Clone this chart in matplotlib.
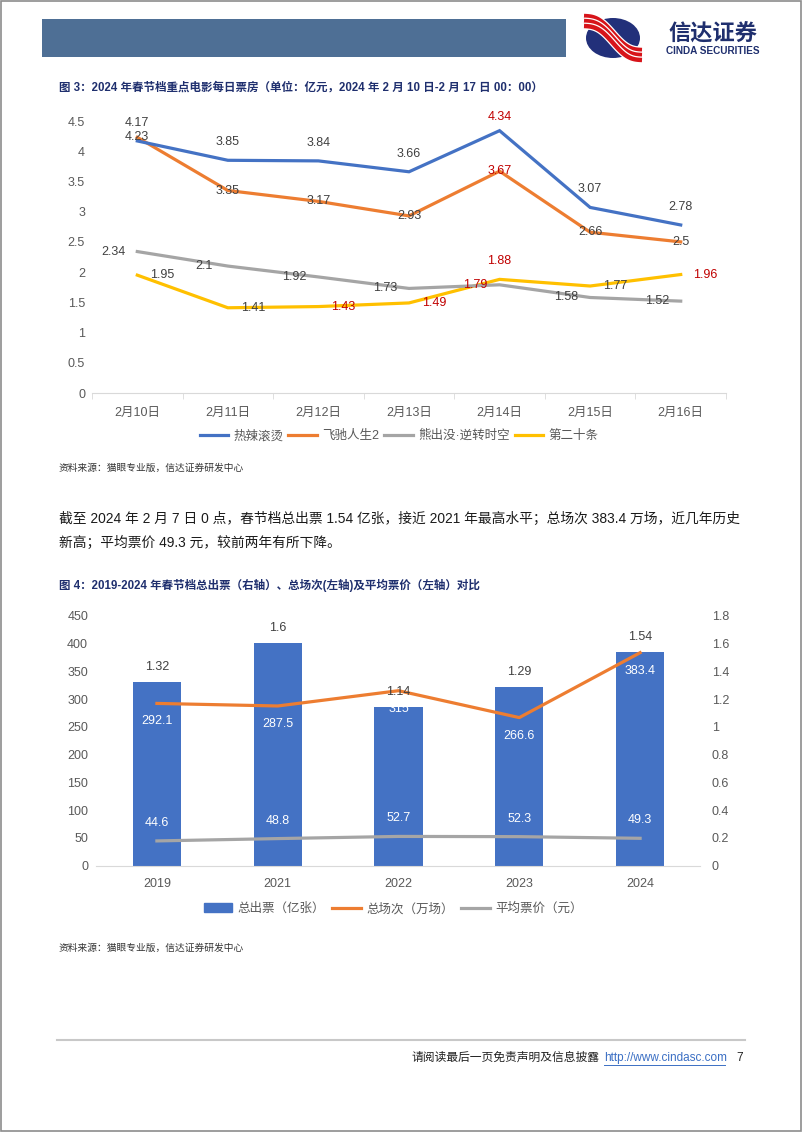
import numpy as np
import matplotlib.pyplot as plt
from matplotlib.patches import Rectangle, Ellipse, Patch
from matplotlib.lines import Line2D

plt.rcParams['font.family'] = ['Liberation Sans', 'Noto Sans CJK SC', 'DejaVu Sans']

# ---- 图3 data: daily box office (亿元)
days = ['2月10日', '2月11日', '2月12日', '2月13日', '2月14日', '2月15日', '2月16日']
movies = ['热辣滚烫', '飞驰人生2', '熊出没·逆转时空', '第二十条']
hot_spicy = [4.17, 3.85, 3.84, 3.66, 4.34, 3.07, 2.78]
pegasus2 = [4.23, 3.35, 3.17, 2.93, 3.67, 2.66, 2.5]
boonie_bears = [2.34, 2.1, 1.92, 1.73, 1.79, 1.58, 1.52]
article20 = [1.95, 1.41, 1.43, 1.49, 1.88, 1.77, 1.96]

# ---- 图4 data
years = ['2019', '2021', '2022', '2023', '2024']
tickets = [1.32, 1.6, 1.14, 1.29, 1.54]          # 总出票（亿张）, right axis
screenings = [292.1, 287.5, 315, 266.6, 383.4]   # 总场次（万场）, left axis
avg_price = [44.6, 48.8, 52.7, 52.3, 49.3]       # 平均票价（元）, left axis

W, H = 802, 1133
TXT = '#404040'
TICK = '#595959'
RED = '#C00000'
NAVY = '#1F2F6E'

fig = plt.figure(figsize=(W / 100, H / 100), dpi=100)

# page layer in pixel coordinates
page = fig.add_axes([0, 0, 1, 1], zorder=0)
page.set_xlim(0, W)
page.set_ylim(H, 0)
page.axis('off')


def frac(x0, y0, x1, y1):
    return [x0 / W, 1 - y1 / H, (x1 - x0) / W, (y1 - y0) / H]


# page border
page.add_patch(Rectangle((0.5, 0.5), W - 2, H - 2.5, fill=False, ec='#8c8c8c', lw=1.2))

# header bar + logo
page.add_patch(Rectangle((42, 19), 524, 38, color='#4E6F95', lw=0))
page.add_patch(Ellipse((613, 38), 54, 40, color='#22307A', lw=0))
tt = np.linspace(0, 1, 50)
for off in (-5, 0, 5):
    xs = 584 + 58 * tt
    ys = 21 + 34 * tt + off - 5 * np.sin(2 * np.pi * tt)
    page.plot(xs, ys, color='white', lw=5, solid_capstyle='butt')
    page.plot(xs, ys, color='#D7141A', lw=3.2, solid_capstyle='butt')
page.text(713, 34, '信达证券', ha='center', va='center', fontsize=16, fontweight='bold',
          color=NAVY, family=['Noto Sans CJK SC'])
page.text(713, 51.5, 'CINDA SECURITIES', ha='center', va='center', fontsize=7.2,
          fontweight='bold', color=NAVY)

# captions / body
page.text(59, 88, '图 3：2024 年春节档重点电影每日票房（单位：亿元，2024 年 2 月 10 日-2 月 17 日 00：00）',
          ha='left', va='center', fontsize=8.3, fontweight='bold', color=NAVY)
page.text(59, 468, '资料来源：猫眼专业版，信达证券研发中心', ha='left', va='center',
          fontsize=7, style='italic', color='#333333')
page.text(59, 519, '截至 2024 年 2 月 7 日 0 点，春节档总出票 1.54 亿张，接近 2021 年最高水平；总场次 383.4 万场，近几年历史',
          ha='left', va='center', fontsize=9.9, color='#1a1a1a')
page.text(59, 543, '新高；平均票价 49.3 元，较前两年有所下降。', ha='left', va='center',
          fontsize=9.9, color='#1a1a1a')
page.text(59, 585, '图 4：2019-2024 年春节档总出票（右轴）、总场次(左轴)及平均票价（左轴）对比',
          ha='left', va='center', fontsize=8.3, fontweight='bold', color=NAVY)
page.text(59, 948, '资料来源：猫眼专业版，信达证券研发中心', ha='left', va='center',
          fontsize=7, style='italic', color='#333333')

# footer
page.plot([57, 745], [1040, 1040], color='#C8C8C8', lw=1.5)
page.text(599, 1058, '请阅读最后一页免责声明及信息披露', ha='right', va='center', fontsize=8.5, color='#222222')
page.text(604, 1058, 'http://www.cindasc.com', ha='left', va='center', fontsize=8.5, color='#3B6FC4')
page.plot([604, 725], [1065, 1065], color='#3B6FC4', lw=0.7)
page.text(740, 1058, '7', ha='center', va='center', fontsize=8.5, color='#222222')

# ================= chart 1 =================
ax1 = fig.add_axes(frac(92, 121, 726, 393), zorder=2)
ax1.patch.set_alpha(0)
x = np.arange(len(days))
series = [hot_spicy, pegasus2, boonie_bears, article20]
colors = ['#4472C4', '#ED7D31', '#A5A5A5', '#FFC000']
# label offset (px) for each series: above, centre, left, right
offsets = [(0, 18), (0, 0), (-24, 0), (25, 0)]
special = {(0, 4): (0, 14), (3, 4): (0, 18)}
red_labels = {(0, 4), (1, 4), (2, 4), (3, 2), (3, 3), (3, 4), (3, 6)}
for s, (vals, c) in enumerate(zip(series, colors)):
    ax1.plot(x, vals, color=c, lw=2.3, solid_joinstyle='miter', zorder=3 - s * 0.1)
for s, vals in enumerate(series):
    for i, v in enumerate(vals):
        dx, dy = special.get((s, i), offsets[s])
        ax1.annotate(f'{v:g}', (i, v), xytext=(dx * 0.72, dy * 0.72), textcoords='offset points',
                     ha='center', va='center', fontsize=9,
                     color=RED if (s, i) in red_labels else TXT, zorder=5)
ax1.set_xlim(-0.5, len(days) - 0.5)
ax1.set_ylim(0, 4.5)
ax1.set_yticks(np.arange(0, 4.51, 0.5))
ax1.set_yticklabels([f'{t:g}' for t in np.arange(0, 4.51, 0.5)])
ax1.set_xticks(x)
ax1.set_xticklabels(days)
ax1.set_xticks(np.arange(-0.5, len(days), 1), minor=True)
ax1.tick_params(axis='x', which='major', length=0, pad=10, labelsize=9, labelcolor=TICK)
ax1.tick_params(axis='x', which='minor', length=4, color='#D9D9D9', direction='out')
ax1.tick_params(axis='y', length=0, pad=5, labelsize=9, labelcolor=TICK)
for sp in ['top', 'right', 'left']:
    ax1.spines[sp].set_visible(False)
ax1.spines['bottom'].set_color('#D9D9D9')
handles = [Line2D([], [], color=c, lw=2.3) for c in colors]
fig.legend(handles, movies, loc='center', bbox_to_anchor=(399 / W, 1 - 436 / H), ncol=4,
           frameon=False, fontsize=9, handlelength=2.3, handletextpad=0.4, columnspacing=0.4,
           labelcolor=TICK)

# ================= chart 2 =================
axb = fig.add_axes(frac(96.5, 615.7, 700.5, 865.7), zorder=2)
axb.patch.set_alpha(0)
axl = axb.twinx()
axl.patch.set_alpha(0)

xb = np.arange(len(years))
axb.bar(xb, tickets, width=0.4, color='#4472C4', zorder=2)
axb.set_ylim(0, 1.8)
axb.set_xlim(-0.5, len(years) - 0.5)
axb.yaxis.tick_right()
rt = np.arange(0, 1.81, 0.2)
axb.set_yticks(rt)
axb.set_yticklabels([f'{t:.1f}'.rstrip('0').rstrip('.') if t > 0 else '0' for t in rt])
axb.tick_params(axis='y', length=0, pad=8, labelsize=9, labelcolor=TICK)
axb.set_xticks(xb)
axb.set_xticklabels(years)
axb.tick_params(axis='x', length=0, pad=9, labelsize=9, labelcolor=TICK)
for sp in ['top', 'right', 'left']:
    axb.spines[sp].set_visible(False)
axb.spines['bottom'].set_color('#D9D9D9')

axl.yaxis.tick_left()
axl.yaxis.set_label_position('left')
axl.set_ylim(0, 450)
axl.set_yticks(np.arange(0, 451, 50))
axl.tick_params(axis='y', length=0, pad=6, labelsize=9, labelcolor=TICK)
for sp in axl.spines.values():
    sp.set_visible(False)
axl.plot(xb, screenings, color='#ED7D31', lw=2.3, zorder=3)
axl.plot(xb, avg_price, color='#A5A5A5', lw=2.3, zorder=3)
for i in range(len(years)):
    axl.annotate(f'{tickets[i]:g}', (i, tickets[i]), xycoords=axb.transData,
                 xytext=(0, 15 * 0.72), textcoords='offset points', ha='center', va='center',
                 fontsize=9, color=TXT, zorder=5)
    axl.annotate(f'{screenings[i]:g}', (i, screenings[i]), xytext=(0, -18 * 0.72),
                 textcoords='offset points', ha='center', va='center', fontsize=9,
                 color='white', zorder=5)
    axl.annotate(f'{avg_price[i]:g}', (i, avg_price[i]), xytext=(0, 18 * 0.72),
                 textcoords='offset points', ha='center', va='center', fontsize=9,
                 color='white', zorder=5)

handles2 = [Patch(color='#4472C4'), Line2D([], [], color='#ED7D31', lw=2.3),
            Line2D([], [], color='#A5A5A5', lw=2.3)]
fig.legend(handles2, ['总出票（亿张）', '总场次（万场）', '平均票价（元）'], loc='center',
           bbox_to_anchor=(393 / W, 1 - 909 / H), ncol=3, frameon=False, fontsize=9,
           handlelength=2.3, handletextpad=0.4, columnspacing=0.6, labelcolor=TICK)

fig.savefig('out.png', dpi=100)
